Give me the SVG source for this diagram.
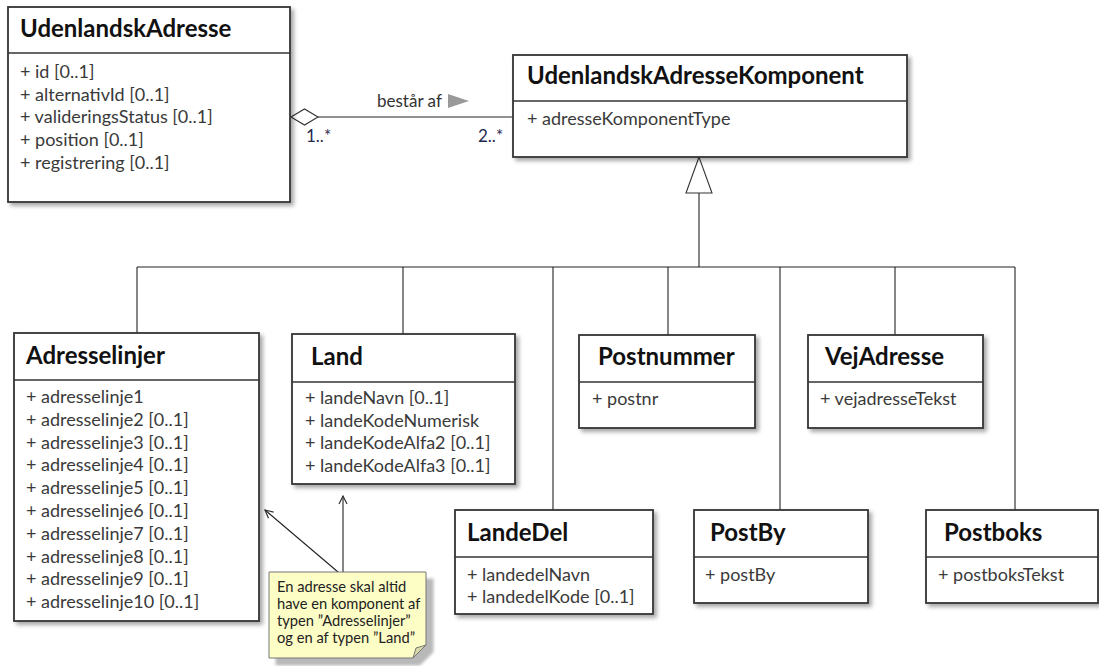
<svg xmlns="http://www.w3.org/2000/svg" width="1099" height="666" viewBox="0 0 1099 666">
<defs>
<filter id="sh" x="-5%" y="-5%" width="115%" height="115%">
<feDropShadow dx="3" dy="3" stdDeviation="2" flood-color="#000" flood-opacity="0.35"/>
</filter>
<filter id="nsh" x="-5%" y="-5%" width="120%" height="120%">
<feDropShadow dx="7" dy="7" stdDeviation="1.5" flood-color="#888" flood-opacity="0.6"/>
</filter>
<marker id="open" markerWidth="10" markerHeight="10" refX="9" refY="5" orient="auto" markerUnits="userSpaceOnUse">
<path d="M1,1 L9,5 L1,9" fill="none" stroke="#333" stroke-width="1.2"/>
</marker>
<style>
.box{fill:#fff;stroke:#333;stroke-width:1.8}
.div{stroke:#333;stroke-width:1.4}
.ttl{font-family:Lato,"Liberation Sans",sans-serif;font-weight:bold;font-size:24px;fill:#111}
.att{font-family:Lato,"Liberation Sans",sans-serif;font-size:18px;fill:#3a3a3a}
.ln{stroke:#222;stroke-width:1.1;fill:none}
.lbl{font-family:Lato,"Liberation Sans",sans-serif;font-size:17px;fill:#333}
.mul{font-family:Lato,"Liberation Sans",sans-serif;font-size:17px;fill:#1f2a4d}
.nt{font-family:Lato,"Liberation Sans",sans-serif;font-size:14.7px;fill:#222}
</style>
</defs>
<rect width="1099" height="666" fill="#fff"/>

<g id="connectors">
<line class="ln" x1="318" y1="117" x2="513" y2="117"/>
<polygon points="291,117 304.5,109 318,117 304.5,125" fill="#fff" stroke="#333" stroke-width="1.1"/>
<text class="lbl" x="377" y="107">består af</text>
<polygon points="448,94 469,101 448,108" fill="#999"/>
<text class="mul" x="306" y="142">1..*</text>
<text class="mul" x="478" y="142">2..*</text>
<line class="ln" x1="699" y1="193" x2="699" y2="267"/>
<polygon points="699,157 686,193 712,193" fill="#fff" stroke="#333" stroke-width="1.1"/>
<line class="ln" x1="137" y1="267" x2="1015" y2="267"/>
<line class="ln" x1="137" y1="267" x2="137" y2="333"/>
<line class="ln" x1="403" y1="267" x2="403" y2="334"/>
<line class="ln" x1="553" y1="267" x2="553" y2="510"/>
<line class="ln" x1="668" y1="267" x2="668" y2="335"/>
<line class="ln" x1="780" y1="267" x2="780" y2="510"/>
<line class="ln" x1="895" y1="267" x2="895" y2="335"/>
<line class="ln" x1="1015" y1="267" x2="1015" y2="510"/>
<line class="ln" x1="338" y1="572" x2="265" y2="510" marker-end="url(#open)"/>
<line class="ln" x1="343" y1="572" x2="343" y2="496" marker-end="url(#open)"/>
</g>

<g id="UdenlandskAdresse">
<rect class="box" x="8" y="7" width="282" height="195" filter="url(#sh)"/>
<line class="div" x1="8" y1="53" x2="290" y2="53"/>
<text class="ttl" x="20" y="37">UdenlandskAdresse</text>
<text class="att" x="20" y="78">+ id [0..1]</text>
<text class="att" x="20" y="101">+ alternativId [0..1]</text>
<text class="att" x="20" y="123">+ valideringsStatus [0..1]</text>
<text class="att" x="20" y="146">+ position [0..1]</text>
<text class="att" x="20" y="169">+ registrering [0..1]</text>
</g>

<g id="UdenlandskAdresseKomponent">
<rect class="box" x="513" y="55" width="394" height="102" filter="url(#sh)"/>
<line class="div" x1="513" y1="101" x2="907" y2="101"/>
<text class="ttl" x="527" y="84">UdenlandskAdresseKomponent</text>
<text class="att" x="527" y="125">+ adresseKomponentType</text>
</g>

<g id="Adresselinjer">
<rect class="box" x="14" y="333" width="245" height="288" filter="url(#sh)"/>
<line class="div" x1="14" y1="380" x2="259" y2="380"/>
<text class="ttl" x="26" y="364">Adresselinjer</text>
<text class="att" x="26" y="403">+ adresselinje1</text>
<text class="att" x="26" y="425.8">+ adresselinje2 [0..1]</text>
<text class="att" x="26" y="448.6">+ adresselinje3 [0..1]</text>
<text class="att" x="26" y="471.4">+ adresselinje4 [0..1]</text>
<text class="att" x="26" y="494.2">+ adresselinje5 [0..1]</text>
<text class="att" x="26" y="517">+ adresselinje6 [0..1]</text>
<text class="att" x="26" y="539.8">+ adresselinje7 [0..1]</text>
<text class="att" x="26" y="562.6">+ adresselinje8 [0..1]</text>
<text class="att" x="26" y="585.4">+ adresselinje9 [0..1]</text>
<text class="att" x="26" y="608.2">+ adresselinje10 [0..1]</text>
</g>

<g id="Land">
<rect class="box" x="292" y="334" width="223" height="150" filter="url(#sh)"/>
<line class="div" x1="292" y1="382" x2="515" y2="382"/>
<text class="ttl" x="311" y="365">Land</text>
<text class="att" x="305" y="404">+ landeNavn [0..1]</text>
<text class="att" x="305" y="427">+ landeKodeNumerisk</text>
<text class="att" x="305" y="449">+ landeKodeAlfa2 [0..1]</text>
<text class="att" x="305" y="472">+ landeKodeAlfa3 [0..1]</text>
</g>

<g id="Postnummer">
<rect class="box" x="579" y="335" width="176" height="93" filter="url(#sh)"/>
<line class="div" x1="579" y1="382" x2="755" y2="382"/>
<text class="ttl" x="598" y="365">Postnummer</text>
<text class="att" x="592" y="405">+ postnr</text>
</g>

<g id="VejAdresse">
<rect class="box" x="808" y="335" width="175" height="93" filter="url(#sh)"/>
<line class="div" x1="808" y1="382" x2="983" y2="382"/>
<text class="ttl" x="825" y="365">VejAdresse</text>
<text class="att" x="820" y="405">+ vejadresseTekst</text>
</g>

<g id="LandeDel">
<rect class="box" x="455" y="510" width="198" height="104" filter="url(#sh)"/>
<line class="div" x1="455" y1="557" x2="653" y2="557"/>
<text class="ttl" x="467" y="541">LandeDel</text>
<text class="att" x="467" y="581">+ landedelNavn</text>
<text class="att" x="467" y="603">+ landedelKode  [0..1]</text>
</g>

<g id="PostBy">
<rect class="box" x="694" y="510" width="174" height="93" filter="url(#sh)"/>
<line class="div" x1="694" y1="557" x2="868" y2="557"/>
<text class="ttl" x="710" y="541">PostBy</text>
<text class="att" x="705" y="581">+ postBy</text>
</g>

<g id="Postboks">
<rect class="box" x="926" y="510" width="172" height="93" filter="url(#sh)"/>
<line class="div" x1="926" y1="557" x2="1098" y2="557"/>
<text class="ttl" x="944" y="541">Postboks</text>
<text class="att" x="938" y="581">+ postboksTekst</text>
</g>

<g id="note">
<polygon points="269,572 426,572 426,645 413,658 269,658" fill="#fdfdc6" stroke="#777" stroke-width="1" filter="url(#nsh)"/>
<path d="M413,658 L416,648 L426,645 Z" fill="#d8d8a8" stroke="#777" stroke-width="1"/>
<text class="nt" x="277" y="592">En adresse skal altid</text>
<text class="nt" x="277" y="609">have en komponent af</text>
<text class="nt" x="277" y="626">typen ”Adresselinjer”</text>
<text class="nt" x="277" y="643">og en af typen ”Land”</text>
</g>
</svg>
